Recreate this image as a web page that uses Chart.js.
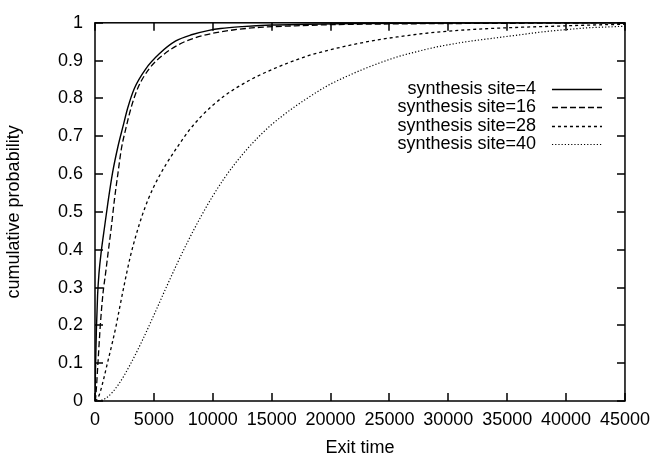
<!DOCTYPE html>
<html><head><meta charset="utf-8">
<script src="https://cdn.jsdelivr.net/npm/chart.js@4.4.1/dist/chart.umd.min.js"></script>
<style>html,body{margin:0;padding:0;background:#fff;}#wrap{width:658px;height:462px;}</style>
</head><body><div id="wrap"><canvas id="c" width="658" height="462"></canvas></div>
<script>
// ---- data ----
const seriesLabels = ['synthesis site=4', 'synthesis site=16', 'synthesis site=28', 'synthesis site=40'];

const site4Time = [0, 40, 120, 220, 340, 530, 820, 1100, 1500, 1950, 2360, 2790, 3350, 4330, 5460, 6860, 8270, 9680, 10660, 12500, 15000, 18000, 22000, 27000, 33000, 39000, 45000];
const site4Prob = [0, 0.08, 0.19, 0.28, 0.338, 0.395, 0.462, 0.525, 0.605, 0.673, 0.724, 0.776, 0.827, 0.879, 0.918, 0.952, 0.969, 0.980, 0.985, 0.990, 0.994, 0.996, 0.998, 0.999, 0.9995, 1.0, 1.0];

const site16Time = [0, 60, 250, 450, 680, 900, 1100, 1380, 1660, 1940, 2230, 2645, 3070, 3630, 4615, 5740, 7150, 8555, 9960, 11700, 14000, 17000, 20000, 25000, 30000, 37000, 45000];
const site16Prob = [0, 0.011, 0.1, 0.2, 0.285, 0.338, 0.389, 0.458, 0.535, 0.6, 0.665, 0.724, 0.776, 0.827, 0.879, 0.914, 0.943, 0.961, 0.972, 0.981, 0.988, 0.992, 0.995, 0.997, 0.998, 0.999, 1.0];

const site28Time = [0, 250, 500, 750, 1000, 1500, 1800, 2000, 2500, 3000, 3500, 4000, 4500, 5000, 5500, 6000, 7000, 8000, 9000, 10000, 11000, 12000, 13000, 14000, 15000, 16000, 17000, 18000, 19000, 20000, 22000, 24000, 26000, 28000, 30000, 33000, 36000, 39000, 42000, 45000];
const site28Prob = [0, 0.008, 0.03, 0.06, 0.093, 0.158, 0.2, 0.232, 0.31, 0.382, 0.44, 0.49, 0.532, 0.567, 0.597, 0.624, 0.672, 0.716, 0.752, 0.782, 0.807, 0.828, 0.846, 0.862, 0.876, 0.889, 0.901, 0.912, 0.921, 0.929, 0.943, 0.955, 0.964, 0.972, 0.978, 0.984, 0.988, 0.991, 0.994, 0.996];

const site40Time = [0, 400, 1000, 2000, 3000, 4000, 5000, 6000, 7000, 8000, 9000, 10000, 11000, 12000, 13000, 14000, 15000, 16000, 17000, 18000, 19000, 20000, 21000, 22000, 23000, 24000, 25000, 26000, 27000, 28000, 29000, 30000, 32000, 34000, 36000, 38000, 40000, 42000, 43500, 45000];
const site40Prob = [0, 0.001, 0.009, 0.044, 0.097, 0.159, 0.227, 0.297, 0.365, 0.429, 0.488, 0.542, 0.590, 0.632, 0.669, 0.702, 0.731, 0.756, 0.779, 0.800, 0.820, 0.838, 0.853, 0.867, 0.880, 0.892, 0.903, 0.913, 0.921, 0.929, 0.936, 0.942, 0.952, 0.960, 0.968, 0.976, 0.982, 0.987, 0.989, 0.991];

const xTickValues = [0, 5000, 10000, 15000, 20000, 25000, 30000, 35000, 40000, 45000];
const yTickValues = [0, 0.1, 0.2, 0.3, 0.4, 0.5, 0.6, 0.7, 0.8, 0.9, 1];
const xTitle = 'Exit time';
const yTitle = 'cumulative probability';

// ---- chart ----
const FONT = '"Liberation Sans", Arial, Helvetica, sans-serif';
const FSIZE = 18;
function pts(t, p) { return t.map((x, i) => ({ x: x, y: p[i] })); }

const styles = [
  { dash: [], width: 1.4 },
  { dash: [6, 3], width: 1.3 },
  { dash: [3, 3], width: 1.3 },
  { dash: [1.2, 2], width: 1.2 }
];
const series = [[site4Time, site4Prob], [site16Time, site16Prob], [site28Time, site28Prob], [site40Time, site40Prob]];

const datasets = series.map((s, i) => ({
  label: seriesLabels[i],
  data: pts(s[0], s[1]),
  borderColor: '#000',
  borderWidth: styles[i].width,
  borderDash: styles[i].dash,
  pointRadius: 0,
  fill: false,
  cubicInterpolationMode: 'monotone'
}));

const framePlugin = {
  id: 'frame',
  afterDatasetsDraw(chart) {
    const ctx = chart.ctx, a = chart.chartArea;
    const xs = chart.scales.x, ys = chart.scales.y;
    const TL = 8;
    ctx.save();
    ctx.strokeStyle = '#000';
    ctx.lineWidth = 1.5;
    ctx.setLineDash([]);
    ctx.beginPath();
    xs.ticks.forEach(t => {
      const px = Math.round(xs.getPixelForValue(t.value));
      ctx.moveTo(px, a.bottom); ctx.lineTo(px, a.bottom - TL);
      ctx.moveTo(px, a.top); ctx.lineTo(px, a.top + TL);
    });
    ys.ticks.forEach(t => {
      const py = Math.round(ys.getPixelForValue(t.value));
      ctx.moveTo(a.left, py); ctx.lineTo(a.left + TL, py);
      ctx.moveTo(a.right, py); ctx.lineTo(a.right - TL, py);
    });
    ctx.stroke();
    ctx.strokeRect(a.left, a.top, a.right - a.left, a.bottom - a.top);
    // key (legend), gnuplot style: text right-aligned, line sample at right
    ctx.font = FSIZE + 'px ' + FONT;
    ctx.fillStyle = '#000';
    ctx.textAlign = 'right';
    ctx.textBaseline = 'middle';
    const textRight = a.right - 89;
    const lineL = a.right - 73, lineR = a.right - 23;
    chart.data.datasets.forEach((ds, i) => {
      const y = a.top + 66 + i * 18.5;
      ctx.fillText(ds.label, textRight, y);
      ctx.beginPath();
      ctx.lineWidth = ds.borderWidth;
      ctx.setLineDash(ds.borderDash);
      ctx.moveTo(lineL, Math.round(y) + 0.5);
      ctx.lineTo(lineR, Math.round(y) + 0.5);
      ctx.stroke();
    });
    ctx.restore();
  }
};

new Chart(document.getElementById('c'), {
  type: 'line',
  data: { datasets: datasets },
  options: {
    responsive: false,
    animation: false,
    devicePixelRatio: 1,
    layout: { padding: { top: 13, right: 30, left: 0, bottom: 0 } },
    plugins: { legend: { display: false }, tooltip: { enabled: false } },
    scales: {
      x: {
        type: 'linear', min: 0, max: 45000,
        afterBuildTicks: s => { s.ticks = xTickValues.map(v => ({ value: v })); },
        afterFit: s => { s.height = 61; },
        grid: { display: false, drawTicks: false },
        border: { display: false },
        ticks: { color: '#000', font: { family: FONT, size: FSIZE }, padding: 8, maxRotation: 0, autoSkip: false,
                 callback: v => String(v) },
        title: { display: true, text: xTitle, color: '#000', font: { family: FONT, size: FSIZE }, padding: { top: 0, bottom: 3 } }
      },
      y: {
        type: 'linear', min: 0, max: 1,
        afterBuildTicks: s => { s.ticks = yTickValues.map(v => ({ value: v })); },
        afterFit: s => { s.width = 95; },
        grid: { display: false, drawTicks: false },
        border: { display: false },
        ticks: { color: '#000', font: { family: FONT, size: FSIZE }, padding: 12, autoSkip: false,
                 callback: v => String(+v.toFixed(1)) },
        title: { display: true, text: yTitle, color: '#000', font: { family: FONT, size: FSIZE }, padding: { top: 3, bottom: 0 } }
      }
    }
  },
  plugins: [framePlugin]
});
</script>
</body></html>
